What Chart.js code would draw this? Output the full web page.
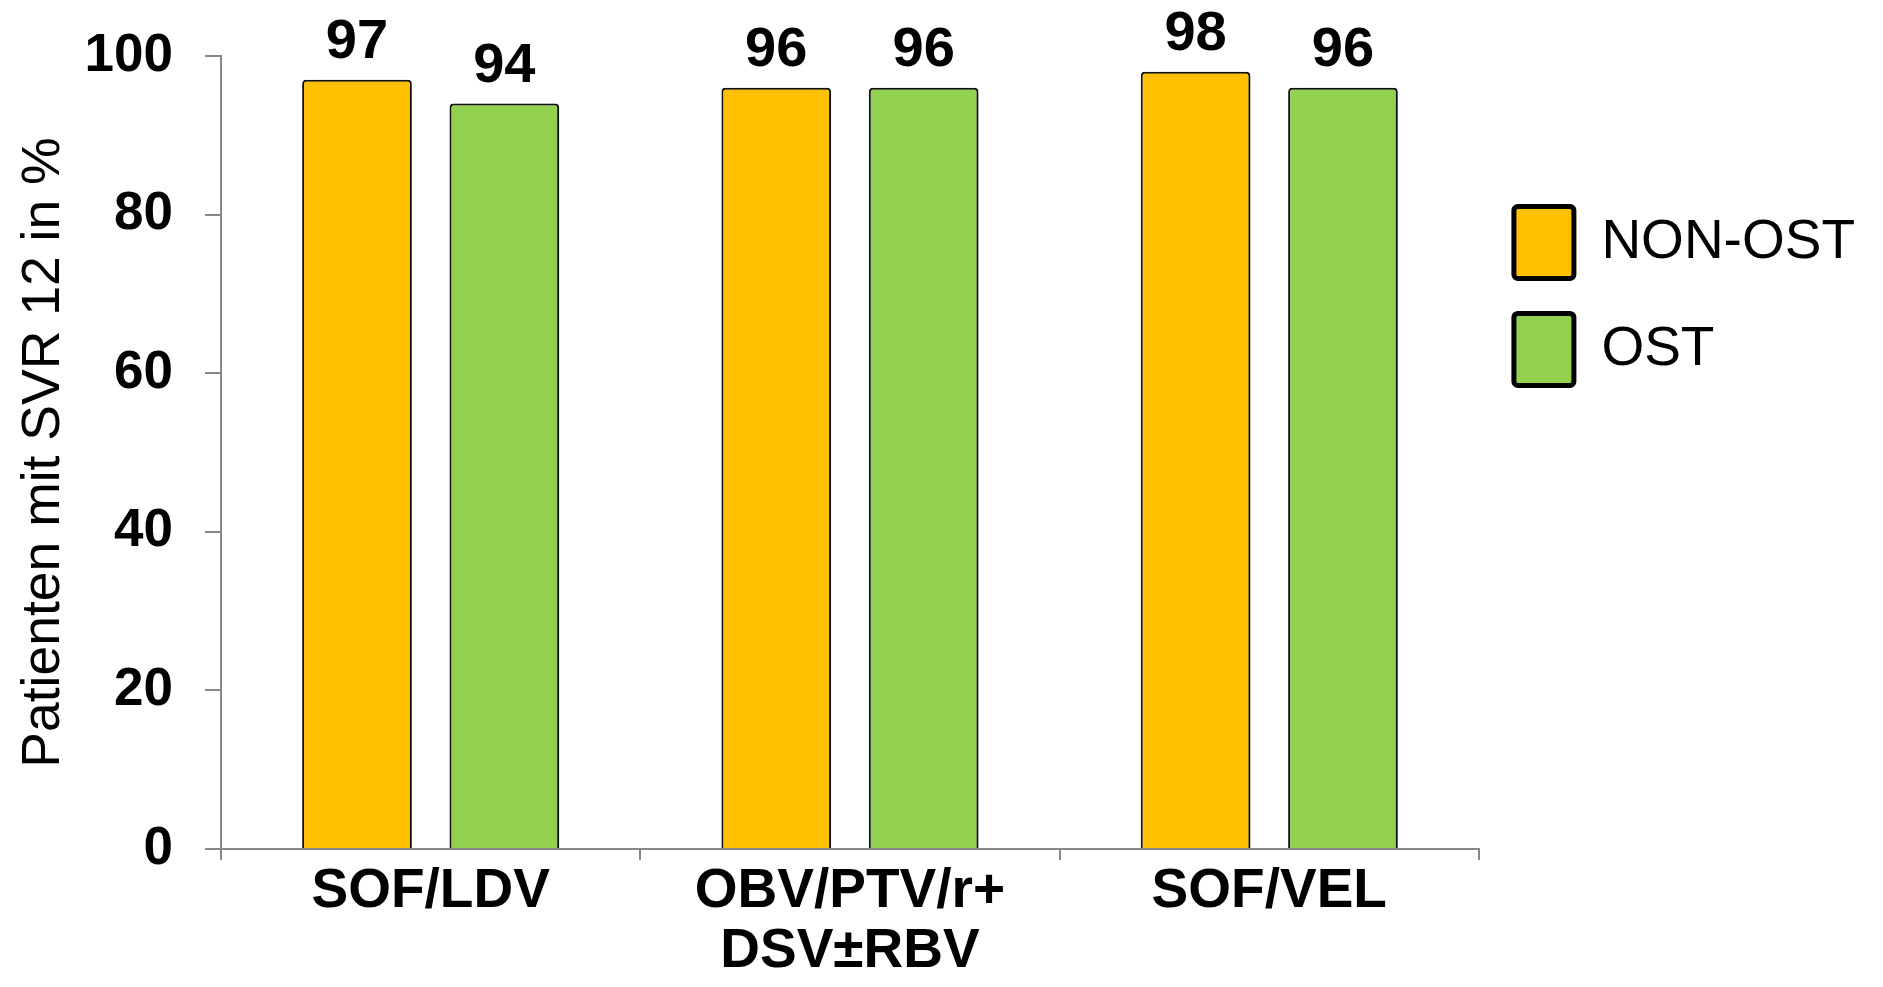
<!DOCTYPE html>
<html lang="de">

<head>
  <meta charset="UTF-8">
  <title>SVR 12</title>
  <script src="https://cdn.jsdelivr.net/npm/chart.js"></script>
  <style>
    body {
      margin: 0;
      padding: 0;
      background: #fff;
    }

    .wrap {
      position: relative;
      width: 1883px;
      height: 987px;
    }
  </style>
</head>

<body>
  <div class="wrap">
    <canvas id="chartSvr"></canvas>
  </div>
  <script>
    // Daten
    const categories = ['SOF/LDV', ['OBV/PTV/r+', 'DSV±RBV'], 'SOF/VEL'];
    const seriesNames = ['NON-OST', 'OST'];
    const nonOstValues = [97, 96, 98];
    const ostValues = [94, 96, 96];
    const yMin = 0;
    const yMax = 100;
    const yStep = 20;
    const yTitle = 'Patienten mit SVR 12 in %';

    const FONT = "'Liberation Sans', Arial, Helvetica, sans-serif";
    const AXIS_GREY = '#888888';

    // Schatten hinter den Balken
    const barShadow = {
      id: 'barShadow',
      beforeDatasetsDraw(chart) {
        const ctx = chart.ctx;
        ctx.save();
        ctx.shadowColor = 'rgba(0, 0, 0, 0.35)';
        ctx.shadowBlur = 7;
        ctx.shadowOffsetX = 5;
        ctx.shadowOffsetY = 3;
      },
      afterDatasetsDraw(chart) {
        chart.ctx.restore();
      }
    };

    // Werte über den Balken
    const valueLabels = {
      id: 'valueLabels',
      afterDatasetsDraw(chart) {
        const ctx = chart.ctx;
        ctx.save();
        ctx.font = 'bold 56px ' + FONT;
        ctx.fillStyle = '#000';
        ctx.textAlign = 'center';
        ctx.textBaseline = 'alphabetic';
        chart.data.datasets.forEach((ds, i) => {
          chart.getDatasetMeta(i).data.forEach((bar, j) => {
            ctx.fillText(ds.data[j], bar.x, bar.y - 22);
          });
        });
        ctx.restore();
      }
    };

    const chartObj = {
      type: 'bar',
      data: {
        labels: categories,
        datasets: [
          {
            label: seriesNames[0],
            data: nonOstValues,
            backgroundColor: '#FFC000',
            borderColor: '#111',
            borderWidth: 2,
            borderRadius: 4,
            categoryPercentage: 0.703,
            barPercentage: 0.744,
          },
          {
            label: seriesNames[1],
            data: ostValues,
            backgroundColor: '#92D050',
            borderColor: '#111',
            borderWidth: 2,
            borderRadius: 4,
            categoryPercentage: 0.703,
            barPercentage: 0.744,
          },
        ]
      },
      options: {
        responsive: true,
        maintainAspectRatio: false,
        animation: false,
        layout: {
          padding: { top: 56, left: 12, right: 18, bottom: 3 }
        },
        plugins: {
          tooltip: { enabled: false },
          legend: {
            position: 'right',
            align: 'start',
            title: {
              display: true,
              text: ' ',
              padding: { top: 101, bottom: 0 }
            },
            labels: {
              boxWidth: 60,
              boxHeight: 72,
              padding: 35,
              color: '#000',
              useBorderRadius: true,
              borderRadius: 4,
              font: { family: FONT, size: 55 },
              generateLabels(chart) {
                const items = Chart.defaults.plugins.legend.labels.generateLabels(chart);
                items.forEach(it => {
                  it.lineWidth = 5;
                  it.strokeStyle = '#000';
                });
                return items;
              }
            }
          }
        },
        scales: {
          x: {
            grid: {
              offset: true,
              drawOnChartArea: false,
              color: AXIS_GREY,
              lineWidth: 2,
              tickLength: 11
            },
            border: { color: AXIS_GREY, width: 2 },
            ticks: {
              color: '#000',
              padding: 2,
              maxRotation: 0,
              crossAlign: 'near',
              font: { family: FONT, size: 55, weight: 'bold', lineHeight: 1.09 }
            }
          },
          y: {
            min: yMin,
            max: yMax,
            afterFit(scale) {
              scale.width = 209;
              scale.paddingTop = 0;
            },
            grid: {
              drawOnChartArea: false,
              color: AXIS_GREY,
              lineWidth: 2,
              tickLength: 16
            },
            border: { color: AXIS_GREY, width: 2 },
            ticks: {
              stepSize: yStep,
              color: '#000',
              padding: 32,
              font: { family: FONT, size: 53, weight: 'bold' }
            },
            title: {
              display: true,
              text: yTitle,
              color: '#000',
              padding: { top: 0, bottom: 14 },
              font: { family: FONT, size: 53.5 }
            }
          }
        }
      },
      plugins: [barShadow, valueLabels]
    };

    new Chart(document.getElementById('chartSvr'), chartObj);
  </script>
</body>

</html>
